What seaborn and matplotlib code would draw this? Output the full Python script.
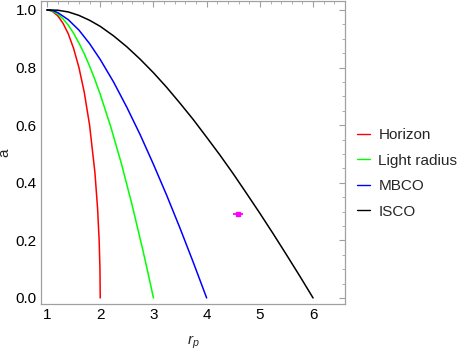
import numpy as np
import pandas as pd
import matplotlib
matplotlib.use("Agg")
import matplotlib.pyplot as plt
import seaborn as sns
from matplotlib.ticker import MultipleLocator

# radii (r_p) and spin (a)
horizon_r = [1.0, 1.05, 1.1, 1.2, 1.3, 1.4, 1.5, 1.6, 1.7, 1.8, 1.9, 1.95, 1.98, 1.995, 2.0]
horizon_a = [1.0, 0.9988, 0.995, 0.980, 0.954, 0.917, 0.866, 0.800, 0.714, 0.600, 0.436, 0.312, 0.199, 0.100, 0.0]

light_r = [1.0, 1.1, 1.2, 1.3, 1.4, 1.5, 1.6, 1.7, 1.8, 1.9, 2.0, 2.2, 2.4, 2.6, 2.8, 2.9, 3.0]
light_a = [1.0, 0.996, 0.986, 0.969, 0.947, 0.919, 0.885, 0.848, 0.805, 0.758, 0.707,
           0.593, 0.465, 0.322, 0.167, 0.085, 0.0]

mbco_r = [1.0, 1.1, 1.2, 1.4, 1.6, 1.8, 2.0, 2.25, 2.5, 2.75, 3.0, 3.25, 3.5, 3.75, 4.0]
mbco_a = [1.0, 0.998, 0.991, 0.966, 0.930, 0.883, 0.828, 0.750, 0.662, 0.567, 0.464,
          0.356, 0.242, 0.123, 0.0]

isco_r = [1.0, 1.2, 1.4, 1.6, 1.8, 2.0, 2.25, 2.5, 2.75, 3.0, 3.25, 3.5, 3.75, 4.0,
          4.25, 4.5, 4.75, 5.0, 5.25, 5.5, 5.75, 6.0]
isco_a = [1.0, 0.999, 0.993, 0.981, 0.964, 0.943, 0.910, 0.872, 0.829, 0.782, 0.731,
          0.676, 0.619, 0.558, 0.496, 0.431, 0.363, 0.294, 0.223, 0.150, 0.076, 0.0]

labels = ["Horizon", "Light radius", "MBCO", "ISCO"]
colors = ["#ff0000", "#00ff00", "#0000ff", "#000000"]

# measured point
obs_r, obs_a = 4.59, 0.29
obs_rerr, obs_aerr = 0.1, 0.01

frames = []
for name, rr, aa in zip(labels, [horizon_r, light_r, mbco_r, isco_r],
                        [horizon_a, light_a, mbco_a, isco_a]):
    frames.append(pd.DataFrame({"r": rr, "a": aa, "curve": name}))
df = pd.concat(frames, ignore_index=True)

sns.set_style("white")
plt.rcParams["font.family"] = ["Liberation Sans", "DejaVu Sans"]
plt.rcParams["mathtext.fontset"] = "custom"
plt.rcParams["mathtext.it"] = "Liberation Sans:italic"
plt.rcParams["mathtext.rm"] = "Liberation Sans"

fig = plt.figure(figsize=(4.57, 3.51), dpi=100)
ax = fig.add_axes([41 / 457, 1 - 304 / 351, 304 / 457, 303 / 351])

sns.lineplot(data=df, x="r", y="a", hue="curve", palette=dict(zip(labels, colors)),
             sort=False, estimator=None, lw=1.1, ax=ax)

ax.errorbar(obs_r, obs_a, xerr=obs_rerr, yerr=obs_aerr, fmt="s", color="#ff00ff",
            ms=3, lw=1.3, capsize=0)

ax.set_xlim(0.887, 6.6)
ax.set_ylim(-0.021, 1.031)
ax.xaxis.set_major_locator(MultipleLocator(1))
ax.xaxis.set_minor_locator(MultipleLocator(0.2))
ax.yaxis.set_major_locator(MultipleLocator(0.2))
ax.yaxis.set_minor_locator(MultipleLocator(0.05))
ax.yaxis.set_major_formatter(matplotlib.ticker.FormatStrFormatter("%.1f"))
ax.tick_params(which="both", direction="in", top=True, right=True, color="#a0a0a0",
               labelsize=11, labelcolor="black")
ax.tick_params(which="major", length=4.5, width=0.8, pad=3)
ax.tick_params(which="minor", length=2.5, width=0.6)
for s in ax.spines.values():
    s.set_color("#a0a0a0")
    s.set_linewidth(0.9)

ax.set_xlabel("$r_p$", fontsize=11, labelpad=8)
ax.set_ylabel("a", fontsize=11, labelpad=3)

sns.move_legend(ax, "center left", bbox_to_anchor=(357 / 457, 1 - 173.5 / 351),
                bbox_transform=fig.transFigure, frameon=False, title=None,
                fontsize=11, handlelength=0.85, handletextpad=0.55, labelspacing=0.75,
                borderpad=0, borderaxespad=0)
for h in ax.get_legend().get_lines():
    h.set_linewidth(1.0)

fig.savefig("out.png", dpi=100)
